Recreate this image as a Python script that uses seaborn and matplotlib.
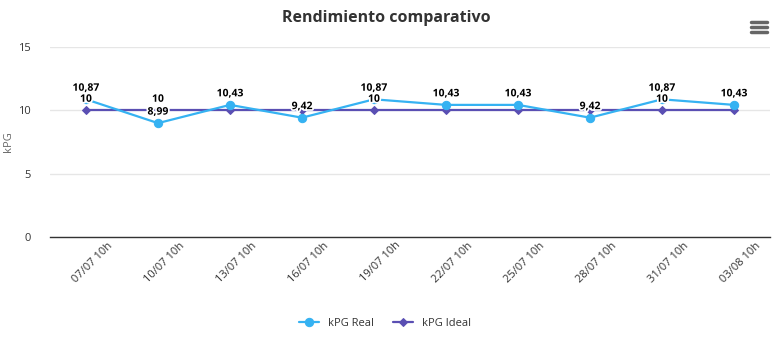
import numpy as np
import pandas as pd
import matplotlib
matplotlib.use("Agg")
import matplotlib.pyplot as plt
import matplotlib.patheffects as pe
import matplotlib.transforms as mtransforms
from matplotlib.lines import Line2D
import seaborn as sns

fechas = ["07/07 10h", "10/07 10h", "13/07 10h", "16/07 10h", "19/07 10h",
          "22/07 10h", "25/07 10h", "28/07 10h", "31/07 10h", "03/08 10h"]
kpg_real = [10.87, 8.99, 10.43, 9.42, 10.87, 10.43, 10.43, 9.42, 10.87, 10.43]
kpg_ideal = [10, 10, 10, 10, 10, 10, 10, 10, 10, 10]
# labels of the ideal series that are not hidden by overlap
ideal_visible = [0, 1, 4, 8]

sns.set_theme(style="white")
plt.rcParams["font.family"] = ["Open Sans", "DejaVu Sans"]

df = pd.DataFrame({"x": range(len(fechas)), "real": kpg_real, "ideal": kpg_ideal})

fig = plt.figure(figsize=(7.73, 3.53), dpi=100)
ax = fig.add_axes([50 / 773, 1 - 237 / 353, 720 / 773, 190 / 353])

c_real = "#35b2f2"
c_ideal = "#5a4fb3"

sns.lineplot(data=df, x="x", y="real", ax=ax, color=c_real, lw=1.6,
             marker="o", markersize=6, markeredgecolor=c_real, label="kPG Real", zorder=3)
sns.lineplot(data=df, x="x", y="ideal", ax=ax, color=c_ideal, lw=1.6,
             marker="D", markersize=4, markeredgecolor=c_ideal, label="kPG Ideal", zorder=2)

outline = [pe.withStroke(linewidth=2.5, foreground="white")]
fmt = lambda v: f"{v:g}".replace(".", ",")
for i, v in enumerate(kpg_real):
    ax.annotate(fmt(v), (i, v), xytext=(0, 4), textcoords="offset points",
                ha="center", va="bottom", fontsize=7.5, fontweight="bold",
                color="black", path_effects=outline, zorder=5)
for i in ideal_visible:
    v = kpg_ideal[i]
    ax.annotate(fmt(v), (i, v), xytext=(0, 4), textcoords="offset points",
                ha="center", va="bottom", fontsize=7.5, fontweight="bold",
                color="black", path_effects=outline, zorder=4)

ax.set_xlim(-0.5, len(fechas) - 0.5)
ax.set_ylim(0, 15)
ax.set_yticks([0, 5, 10, 15])
ax.yaxis.grid(True, color="#e6e6e6", lw=1)
ax.set_axisbelow(True)
ax.set_xticks(range(len(fechas)))
ax.set_xticklabels([])
# rotated category labels, anchored a little right of each tick like the original
lbl_tr = ax.get_xaxis_transform() + mtransforms.ScaledTranslation(0.21, -0.03, fig.dpi_scale_trans)
for i, f in enumerate(fechas):
    ax.text(i, 0, f, transform=lbl_tr, rotation=45, ha="right", va="top",
            rotation_mode="anchor", fontsize=8, color="#333333")
ax.tick_params(axis="y", labelsize=8, labelcolor="#333333", pad=14, length=0)
ax.tick_params(axis="x", length=0, pad=4)
for s in ["top", "right", "left"]:
    ax.spines[s].set_visible(False)
ax.spines["bottom"].set_color("#333333")
ax.spines["bottom"].set_linewidth(1)
ax.set_xlabel("")
ax.set_ylabel("")
fig.text(9 / 773, 1 - 142 / 353, "kPG", rotation=90, ha="center", va="center",
         fontsize=8, color="#666666")

fig.suptitle("Rendimiento comparativo", x=386 / 773, y=1 - 18 / 353, va="center",
             fontsize=11.5, fontweight="bold", color="#333333")

ax.legend(loc="center", bbox_to_anchor=(385 / 773, 1 - 323 / 353),
          bbox_transform=fig.transFigure, ncol=2, frameon=False, fontsize=8,
          handlelength=1.8, columnspacing=1.8, labelcolor="#333333")

# menu icon
for yy in [22, 27, 32]:
    fig.add_artist(Line2D([751 / 773, 767 / 773], [1 - yy / 353] * 2,
                          color="#666666", lw=2.5, solid_capstyle="round"))

fig.savefig("out.png", dpi=100)
